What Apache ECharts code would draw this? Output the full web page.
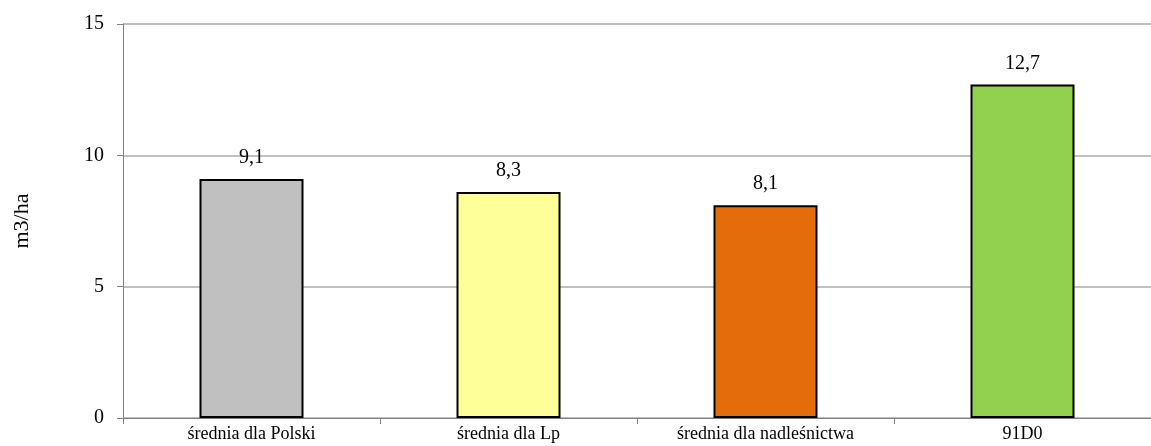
<!DOCTYPE html>
<html>
<head>
<meta charset="utf-8">
<script src="https://cdn.jsdelivr.net/npm/echarts@6/dist/echarts.min.js"></script>
<style>html,body{margin:0;padding:0;background:#fff;}#c{width:1151px;height:446px;}</style>
</head>
<body>
<div id="c"></div>
<script>
const categories = ["średnia dla Polski", "średnia dla Lp", "średnia dla nadleśnictwa", "91D0"];
const values = [9.1, 8.6, 8.1, 12.7];
const valueLabels = ["9,1", "8,3", "8,1", "12,7"];
const barColors = ["#C0C0C0", "#FFFF99", "#E46C0A", "#92D050"];
const yTicks = [0, 5, 10, 15];

const chart = echarts.init(document.getElementById('c'));
const font = "Liberation Serif";
chart.setOption({
  animation: false,
  backgroundColor: '#fff',
  grid: { left: 123, right: -4, top: 24, bottom: 28, containLabel: false },
  xAxis: {
    type: 'category',
    data: categories,
    axisLine: { lineStyle: { color: '#808080', width: 1 } },
    axisTick: { show: true, length: 6, lineStyle: { color: '#808080' } },
    axisLabel: { color: '#000', fontFamily: font, fontSize: 18, margin: 7 }
  },
  yAxis: {
    type: 'value',
    min: yTicks[0], max: yTicks[yTicks.length - 1], interval: 5,
    name: 'm3/ha',
    nameLocation: 'middle',
    nameGap: 90,
    nameRotate: 90,
    nameTextStyle: { color: '#000', fontFamily: font, fontSize: 22 },
    axisLine: { show: true, lineStyle: { color: '#808080', width: 1 } },
    axisTick: { show: true, length: 6, lineStyle: { color: '#808080' } },
    axisLabel: { color: '#000', fontFamily: font, fontSize: 20, margin: 19 },
    splitLine: { lineStyle: { color: '#C0C0C0', width: 2 } }
  },
  series: [{
    type: 'bar',
    barWidth: 104,
    data: values.map((v, i) => ({
      value: v,
      itemStyle: { color: barColors[i], borderColor: '#000', borderWidth: 2 },
      label: { formatter: valueLabels[i] }
    })),
    label: { show: true, position: 'top', distance: 11, color: '#000', fontFamily: font, fontSize: 20 }
  }]
});
</script>
</body>
</html>
